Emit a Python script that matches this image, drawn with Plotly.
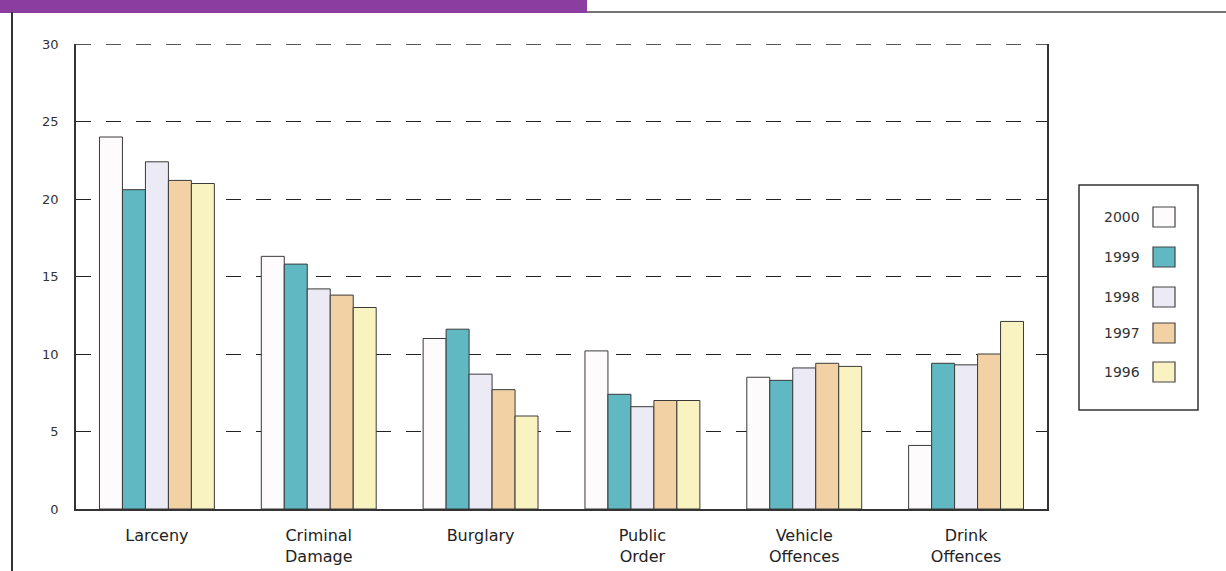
import plotly.graph_objects as go

# Offence categories (x axis) and percentage shares per year
categories = ["Larceny", "Criminal<br>Damage", "Burglary", "Public<br>Order",
              "Vehicle<br>Offences", "Drink<br>Offences"]
years = ["2000", "1999", "1998", "1997", "1996"]
values_2000 = [24.0, 16.3, 11.0, 10.2, 8.5, 4.1]
values_1999 = [20.6, 15.8, 11.6, 7.4, 8.3, 9.4]
values_1998 = [22.4, 14.2, 8.7, 6.6, 9.1, 9.3]
values_1997 = [21.2, 13.8, 7.7, 7.0, 9.4, 10.0]
values_1996 = [21.0, 13.0, 6.0, 7.0, 9.2, 12.1]
y_ticks = [0, 5, 10, 15, 20, 25, 30]

series = [values_2000, values_1999, values_1998, values_1997, values_1996]
colors = ["#FDFBFB", "#5FB8C2", "#ECEAF4", "#F2D1A4", "#F8F3C0"]

W, H = 1226, 571
L, R, T, B = 76, 1047, 44, 509  # plot area in pixels
FONT = "DejaVu Sans, Liberation Sans, Arial"

fig = go.Figure()
for name, vals, col in zip(years, series, colors):
    fig.add_trace(go.Bar(
        x=categories, y=vals, name=name,
        marker=dict(color=col, line=dict(color="#3a3a3a", width=1)),
        showlegend=False,
    ))


def px_x(px):
    return (px - L) / (R - L)


def px_y(py):
    return (B - py) / (B - T)


shapes = []
annotations = []

# page decoration: purple header strip and page rules
shapes.append(dict(type="rect", xref="paper", yref="paper",
                   x0=px_x(0), x1=px_x(587), y0=px_y(13), y1=px_y(0),
                   fillcolor="#8C3DA0", line=dict(width=0), layer="above"))
shapes.append(dict(type="line", xref="paper", yref="paper",
                   x0=px_x(587), x1=px_x(1226), y0=px_y(12), y1=px_y(12),
                   line=dict(color="#444444", width=1.5)))
shapes.append(dict(type="line", xref="paper", yref="paper",
                   x0=px_x(12), x1=px_x(12), y0=px_y(12), y1=px_y(571),
                   line=dict(color="#333333", width=2)))

# dashed top edge of the plot frame at the axis maximum
shapes.append(dict(type="line", xref="paper", yref="y",
                   x0=0, x1=1, y0=y_ticks[-1], y1=y_ticks[-1],
                   line=dict(color="#222222", width=1.3, dash="longdash")))

# legend box with labels on the left and swatches on the right
shapes.append(dict(type="rect", xref="paper", yref="paper",
                   x0=px_x(1079), x1=px_x(1198), y0=px_y(410), y1=px_y(185),
                   fillcolor="white", line=dict(color="#333333", width=1.5)))
entry_y = [217, 257, 297, 333, 372]
for name, col, ey in zip(years, colors, entry_y):
    annotations.append(dict(xref="paper", yref="paper",
                            x=px_x(1142), y=px_y(ey), text=name,
                            showarrow=False, xanchor="right", yanchor="middle",
                            font=dict(family=FONT, size=14, color="#333333")))
    shapes.append(dict(type="rect", xref="paper", yref="paper",
                       x0=px_x(1153), x1=px_x(1175),
                       y0=px_y(ey + 10), y1=px_y(ey - 10),
                       fillcolor=col, line=dict(color="#444444", width=1.2)))

fig.update_layout(
    width=W, height=H,
    margin=dict(l=L, r=W - R, t=T, b=H - B, pad=0, autoexpand=False),
    paper_bgcolor="white", plot_bgcolor="white",
    barmode="group", bargap=0.29, bargroupgap=0,
    showlegend=False,
    shapes=shapes, annotations=annotations,
    font=dict(family=FONT, color="#333333"),
)
fig.update_yaxes(
    range=[0, 30], tickvals=y_ticks, ticktext=[str(v) for v in y_ticks],
    showgrid=True, gridcolor="#222222", gridwidth=1.3, griddash="longdash",
    showline=True, linecolor="#333333", linewidth=1.5, mirror=True,
    zeroline=False, ticks="", ticklabelstandoff=13, automargin=False,
    tickfont=dict(family=FONT, size=13, color="#333333"),
)
fig.update_xaxes(
    showgrid=False, showline=True, linecolor="#333333", linewidth=1.5,
    ticks="", ticklabelstandoff=11, automargin=False,
    tickfont=dict(family=FONT, size=16, color="#222222"),
)

fig.write_html("out.html")
